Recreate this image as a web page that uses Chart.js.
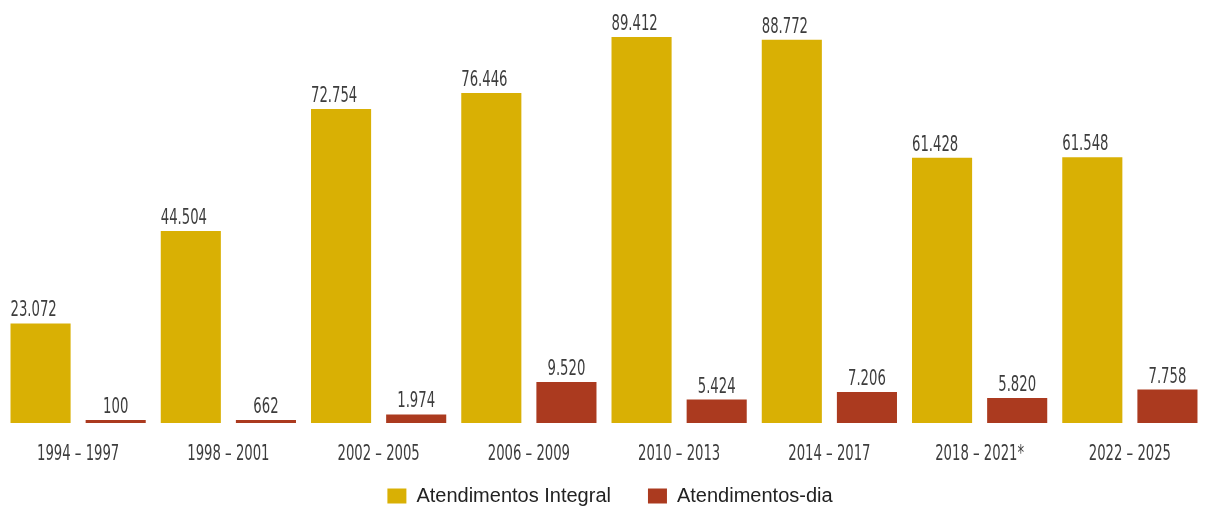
<!DOCTYPE html>
<html>
<head>
<meta charset="utf-8">
<script src="https://cdn.jsdelivr.net/npm/chart.js@4/dist/chart.umd.min.js"></script>
<style>
  html, body { margin: 0; padding: 0; background: #fff; }
  #wrap { width: 1205px; height: 508px; position: relative; }
</style>
</head>
<body>
<div id="wrap"><canvas id="chartCanvas"></canvas></div>
<script>
const periods = ["1994 – 1997", "1998 – 2001", "2002 – 2005", "2006 – 2009", "2010 – 2013", "2014 – 2017", "2018 – 2021*", "2022 – 2025"];
const integral = [23072, 44504, 72754, 76446, 89412, 88772, 61428, 61548];
const dia = [100, 662, 1974, 9520, 5424, 7206, 5820, 7758];

const YELLOW = "#d9b004";
const RED = "#ab3a1f";
const NARROW = "'DejaVu Sans Condensed', 'DejaVu Sans', sans-serif";
const SQUEEZE = 0.7;   // the original uses a condensed face, so squash the text a bit

function fmt(v) {
    return v.toLocaleString("pt-BR");
}

function squeezedText(ctx, text, x, y, align, baseline) {
    ctx.save();
    ctx.font = "21px " + NARROW;
    ctx.fillStyle = "#3d3d3d";
    ctx.textAlign = align;
    ctx.textBaseline = baseline;
    ctx.translate(x, y);
    ctx.scale(SQUEEZE, 1);
    ctx.fillText(text, 0, 0);
    ctx.restore();
}

// values above bars (yellow start at bar's left edge, red centered) + period labels under the axis
const textLabels = {
    id: "textLabels",
    afterDatasetsDraw(chart) {
        const ctx = chart.ctx;
        chart.data.datasets.forEach((ds, i) => {
            chart.getDatasetMeta(i).data.forEach((bar, j) => {
                const x = i === 0 ? bar.x - bar.width / 2 : bar.x;
                squeezedText(ctx, fmt(ds.data[j]), x, bar.y - 7, i === 0 ? "left" : "center", "alphabetic");
            });
        });
        const xScale = chart.scales.x;
        chart.data.labels.forEach((lbl, i) => {
            squeezedText(ctx, lbl, xScale.getPixelForTick(i), chart.chartArea.bottom + 37, "center", "alphabetic");
        });
    }
};

const ctx = document.getElementById("chartCanvas").getContext("2d");
const chart = new Chart(ctx, {
    type: "bar",
    data: {
        labels: periods,
        datasets: [{
            label: "Atendimentos Integral",
            data: integral,
            backgroundColor: YELLOW
        }, {
            label: "Atendimentos-dia",
            data: dia,
            backgroundColor: RED,
            minBarLength: 3
        }]
    },
    options: {
        responsive: true,
        maintainAspectRatio: false,
        animation: false,
        layout: { padding: { left: 3, right: -12, top: 0, bottom: -8 } },
        datasets: {
            bar: { categoryPercentage: 1.0, barPercentage: 0.8 }
        },
        plugins: {
            tooltip: { enabled: false },
            legend: {
                position: "bottom",
                labels: {
                    boxWidth: 19,
                    boxHeight: 15,
                    padding: 37,
                    color: "#222",
                    font: { size: 20, family: "'Liberation Sans', sans-serif" }
                }
            }
        },
        scales: {
            x: {
                grid: { display: false, drawTicks: false },
                border: { display: false },
                ticks: { display: false },
                afterFit(scale) {
                    scale.height = 26;
                }
            },
            y: {
                display: false,
                min: 0,
                max: 98000
            }
        }
    },
    plugins: [textLabels]
});
</script>
</body>
</html>
